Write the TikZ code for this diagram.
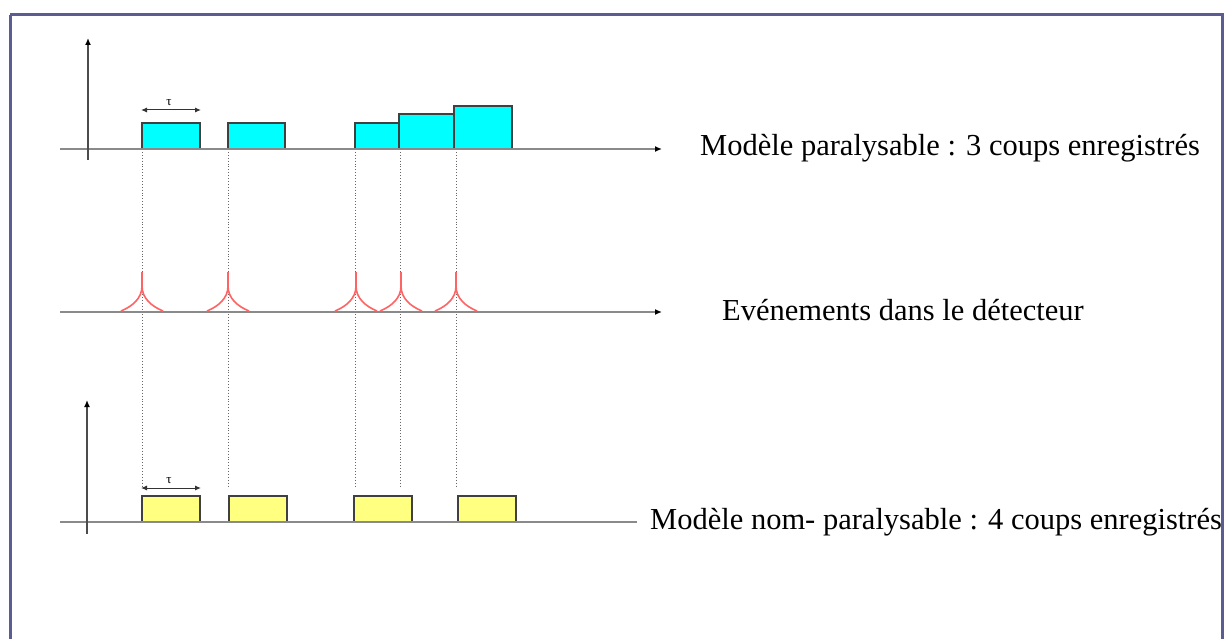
\documentclass[tikz,border=0pt]{standalone}
\usepackage{fontspec}
\setmainfont{Liberation Serif}
\usetikzlibrary{arrows.meta}
\definecolor{framecol}{HTML}{5C5C94}
\definecolor{axiscol}{HTML}{8A8A8A}
\definecolor{pulsecol}{HTML}{FF6464}
\definecolor{cyanbox}{HTML}{00FFFF}
\definecolor{yellowbox}{HTML}{FFFF80}
\tikzset{
  axis/.style={draw=axiscol, line width=1.8pt},
  haxis/.style={axis, -{Latex[length=7pt,width=6pt,black]}},
  vaxis/.style={draw=black!70, line width=1.6pt, -{Latex[length=7pt,width=6pt,black]}},
  pulsebox/.style={draw=black!75, line width=1.2pt},
  deadbox/.style={pulsebox, fill=cyanbox},
  countbox/.style={pulsebox, fill=yellowbox},
  guide/.style={draw=black!60, line width=0.9pt, dotted},
  pulse/.style={draw=pulsecol, line width=1.6pt},
  tauarrow/.style={draw=black!80, line width=1pt, {Latex[length=6pt,width=5pt]}-{Latex[length=6pt,width=5pt]}},
  taulabel/.style={font=\fontsize{13}{13}\selectfont, inner sep=0pt},
  caption/.style={anchor=west, inner sep=0pt, font=\fontsize{30.5}{33}\selectfont}
}
\begin{document}
\begin{tikzpicture}[x=1pt, y=-1pt]
  \useasboundingbox (0,0) rectangle (1228,639);
  \fill[white] (0,0) rectangle (1228,639);
  \clip (0,0) rectangle (1228,639);
  % outer frame (runs past the lower edge)
  \draw[framecol, line width=3pt] (10,15) -- (1222,15) -- (1222,660) (10,15) -- (10,660);

  % ---- dotted guides from each event down to the counting model
  \foreach \x/\n in {142/a,228/b,355/c,400/d,456/e}{
    \coordinate (g\n-top) at (\x,152);
    \coordinate (g\n-bot) at (\x,487);
    \draw[guide] (g\n-top) -- (g\n-bot);
  }

  % ---- paralysable model
  \coordinate (pa-o) at (60,149);
  \coordinate (pa-e) at (662,149);
  \coordinate (pa-y0) at (88,160);
  \coordinate (pa-y1) at (88,38);
  \draw[deadbox] (142,123) rectangle (200,149);
  \draw[deadbox] (228,123) rectangle (285,149);
  \draw[deadbox] (355,123) rectangle (412,149);
  \draw[deadbox] (399,114) rectangle (456,149);
  \draw[deadbox] (454,106) rectangle (512,149);
  \draw[haxis] (pa-o) -- (pa-e);
  \draw[vaxis] (pa-y0) -- (pa-y1);
  \coordinate (ta-l) at (141,110);
  \coordinate (ta-r) at (201,110);
  \draw[tauarrow] (ta-l) -- (ta-r);
  \node[taulabel] (tau-a) at (169,103) {τ};
  \node[caption] (cap-a) at (700,148) {Modèle paralysable : 3 coups enregistrés};

  % ---- events in the detector
  \coordinate (ev-o) at (60,312);
  \coordinate (ev-e) at (662,312);
  \draw[haxis] (ev-o) -- (ev-e);
  \foreach \x in {142,228,356,401,456}{
    \draw[pulse] (\x-21,311) .. controls (\x-9,306) and (\x,298) .. (\x,286) -- (\x,272);
    \draw[pulse] (\x+21,311) .. controls (\x+9,306) and (\x,298) .. (\x,286);
  }
  \node[caption] (cap-b) at (722,310) {Evénements dans le détecteur};

  % ---- non-paralysable model
  \coordinate (np-o) at (60,522);
  \coordinate (np-e) at (637,522);
  \coordinate (np-y0) at (87,534);
  \coordinate (np-y1) at (87,400);
  \draw[countbox] (142,496) rectangle (200,522);
  \draw[countbox] (229,496) rectangle (287,522);
  \draw[countbox] (354,496) rectangle (412,522);
  \draw[countbox] (458,496) rectangle (516,522);
  \draw[axis] (np-o) -- (np-e);
  \draw[vaxis] (np-y0) -- (np-y1);
  \coordinate (tb-l) at (141,488);
  \coordinate (tb-r) at (201,488);
  \draw[tauarrow] (tb-l) -- (tb-r);
  \node[taulabel] (tau-b) at (169,481) {τ};
  \node[caption] (cap-c) at (650,522) {Modèle nom- paralysable : 4 coups enregistrés};
\end{tikzpicture}
\end{document}
